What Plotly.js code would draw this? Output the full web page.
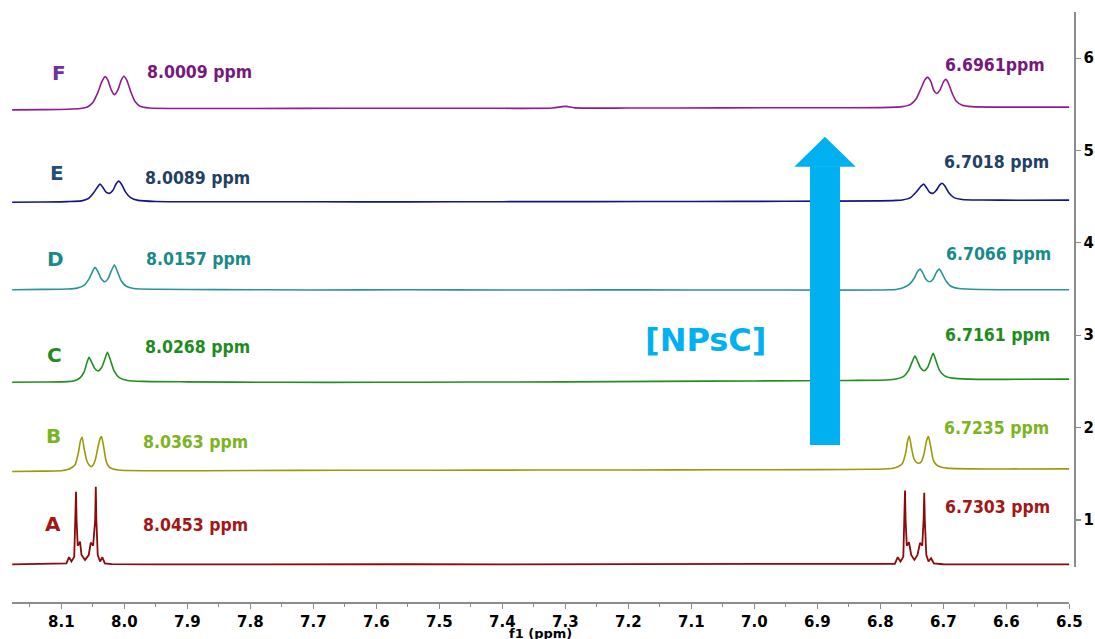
<!DOCTYPE html>
<html>
<head>
<meta charset="utf-8">
<script src="https://cdn.plot.ly/plotly-3.0.1.min.js"></script>
<style>
  html, body { margin: 0; padding: 0; background: #ffffff; }
  #chart { width: 1095px; height: 639px; }
</style>
</head>
<body>
<div id="chart"></div>
<script>
// Stacked 1H NMR spectra, aromatic region (f1, ppm), samples A–F.

// Sample names (bottom to top)
const sampleNames = ['A', 'B', 'C', 'D', 'E', 'F'];

// Chemical shifts labelled for the two doublets of each sample
const leftShiftLabels  = ['8.0453 ppm', '8.0363 ppm', '8.0268 ppm', '8.0157 ppm', '8.0089 ppm', '8.0009 ppm'];
const rightShiftLabels = ['6.7303 ppm', '6.7235 ppm', '6.7161 ppm', '6.7066 ppm', '6.7018 ppm', '6.6961ppm'];

// Spectrum A (ppm, stacked intensity)
const xA = [8.178, 8.14, 8.10, 8.092, 8.0878, 8.084, 8.0795, 8.0775, 8.0767, 8.0758, 8.074, 8.0703, 8.068, 8.0624, 8.0565, 8.0533, 8.0495, 8.0463, 8.0453, 8.0444, 8.0422, 8.0385, 8.0349, 8.031, 8.02, 7.95, 7.85, 7.7, 7.55, 7.4, 7.25, 7.1, 6.95, 6.85, 6.79, 6.777, 6.7724, 6.768, 6.7635, 6.7616, 6.7608, 6.7599, 6.758, 6.7545, 6.751, 6.746, 6.741, 6.737, 6.7335, 6.7313, 6.7303, 6.7294, 6.727, 6.7235, 6.7195, 6.715, 6.70, 6.6, 6.5];
const yA = [0.518, 0.522, 0.525, 0.53, 0.596, 0.55, 0.60, 1.0, 1.306, 1.0, 0.72, 0.765, 0.62, 0.567, 0.62, 0.754, 0.72, 1.0, 1.36, 1.0, 0.62, 0.55, 0.596, 0.53, 0.522, 0.519, 0.521, 0.518, 0.52, 0.519, 0.521, 0.52, 0.518, 0.52, 0.522, 0.525, 0.596, 0.55, 0.60, 1.0, 1.317, 1.0, 0.72, 0.758, 0.62, 0.567, 0.62, 0.751, 0.72, 1.0, 1.295, 1.0, 0.62, 0.55, 0.585, 0.53, 0.52, 0.519, 0.518];

// Spectrum B
const xB = [8.178, 8.13, 8.10, 8.09, 8.084, 8.0783, 8.073, 8.0695, 8.067, 8.0635, 8.0595, 8.0555, 8.0516, 8.0465, 8.0415, 8.0385, 8.0363, 8.033, 8.029, 8.025, 8.018, 8.005, 7.95, 7.8, 7.65, 7.5, 7.35, 7.2, 7.05, 6.9, 6.81, 6.795, 6.78, 6.772, 6.765, 6.76, 6.7565, 6.754, 6.7505, 6.7465, 6.742, 6.7388, 6.735, 6.7305, 6.7265, 6.7235, 6.72, 6.716, 6.711, 6.703, 6.69, 6.66, 6.6, 6.5];
const yB = [1.525, 1.528, 1.533, 1.545, 1.565, 1.595, 1.725, 1.86, 1.895, 1.76, 1.64, 1.59, 1.578, 1.64, 1.80, 1.88, 1.902, 1.80, 1.64, 1.58, 1.55, 1.537, 1.532, 1.535, 1.537, 1.538, 1.54, 1.541, 1.543, 1.545, 1.548, 1.552, 1.56, 1.575, 1.61, 1.72, 1.86, 1.909, 1.78, 1.66, 1.62, 1.614, 1.63, 1.72, 1.86, 1.902, 1.79, 1.65, 1.595, 1.57, 1.558, 1.553, 1.552, 1.553];

// Spectrum C
const xC = [8.178, 8.13, 8.09, 8.078, 8.070, 8.064, 8.0595, 8.056, 8.052, 8.047, 8.0414, 8.036, 8.031, 8.0268, 8.022, 8.016, 8.008, 7.995, 7.97, 7.9, 7.75, 7.6, 7.45, 7.3, 7.15, 7.0, 6.85, 6.79, 6.775, 6.763, 6.755, 6.749, 6.745, 6.741, 6.736, 6.7305, 6.725, 6.72, 6.7161, 6.712, 6.706, 6.698, 6.685, 6.66, 6.6, 6.5];
const yC = [2.49, 2.493, 2.497, 2.51, 2.54, 2.6, 2.7, 2.761, 2.71, 2.64, 2.613, 2.65, 2.74, 2.815, 2.73, 2.61, 2.54, 2.51, 2.5, 2.495, 2.49, 2.49, 2.493, 2.495, 2.5, 2.505, 2.51, 2.515, 2.525, 2.555, 2.62, 2.72, 2.775, 2.72, 2.645, 2.616, 2.65, 2.74, 2.804, 2.73, 2.62, 2.56, 2.535, 2.525, 2.522, 2.525];

// Spectrum D
const xD = [8.178, 8.13, 8.09, 8.075, 8.064, 8.056, 8.0505, 8.0465, 8.042, 8.037, 8.0311, 8.026, 8.0205, 8.0157, 8.011, 8.005, 7.997, 7.985, 7.95, 7.85, 7.7, 7.55, 7.4, 7.25, 7.1, 6.95, 6.8, 6.775, 6.765, 6.754, 6.746, 6.741, 6.737, 6.733, 6.728, 6.7218, 6.716, 6.711, 6.7066, 6.702, 6.696, 6.688, 6.675, 6.64, 6.58, 6.5];
const yD = [3.493, 3.496, 3.5, 3.51, 3.54, 3.61, 3.69, 3.735, 3.69, 3.615, 3.579, 3.61, 3.7, 3.76, 3.69, 3.59, 3.53, 3.505, 3.497, 3.494, 3.49, 3.492, 3.49, 3.491, 3.49, 3.489, 3.49, 3.495, 3.51, 3.55, 3.62, 3.69, 3.716, 3.68, 3.61, 3.579, 3.61, 3.68, 3.716, 3.67, 3.59, 3.53, 3.505, 3.495, 3.492, 3.493];

// Spectrum E
const xE = [8.178, 8.13, 8.09, 8.068, 8.057, 8.049, 8.043, 8.0386, 8.034, 8.029, 8.0237, 8.018, 8.013, 8.0089, 8.004, 7.998, 7.99, 7.978, 7.95, 7.85, 7.7, 7.55, 7.4, 7.25, 7.1, 6.95, 6.8, 6.775, 6.765, 6.752, 6.743, 6.736, 6.7313, 6.727, 6.722, 6.7166, 6.711, 6.706, 6.7018, 6.697, 6.691, 6.683, 6.67, 6.64, 6.58, 6.5];
const yE = [4.44, 4.443, 4.447, 4.455, 4.48, 4.54, 4.6, 4.636, 4.6, 4.55, 4.536, 4.57, 4.64, 4.669, 4.63, 4.55, 4.49, 4.46, 4.448, 4.446, 4.445, 4.444, 4.446, 4.447, 4.448, 4.45, 4.455, 4.46, 4.465, 4.49, 4.55, 4.61, 4.636, 4.6, 4.55, 4.536, 4.57, 4.625, 4.645, 4.61, 4.54, 4.49, 4.47, 4.464, 4.462, 4.463];

// Spectrum F
const xF = [8.178, 8.13, 8.09, 8.07, 8.058, 8.05, 8.042, 8.036, 8.0306, 8.026, 8.021, 8.0158, 8.01, 8.005, 8.0009, 7.996, 7.99, 7.983, 7.975, 7.96, 7.92, 7.8, 7.65, 7.5, 7.4, 7.32, 7.305, 7.298, 7.285, 7.2, 7.05, 6.9, 6.8, 6.775, 6.765, 6.752, 6.743, 6.735, 6.729, 6.7248, 6.72, 6.715, 6.7104, 6.705, 6.7, 6.6961, 6.692, 6.686, 6.679, 6.67, 6.655, 6.6, 6.5];
const yF = [5.44, 5.443, 5.447, 5.455, 5.475, 5.52, 5.63, 5.74, 5.80, 5.76, 5.66, 5.605, 5.66, 5.76, 5.805, 5.76, 5.64, 5.53, 5.48, 5.46, 5.455, 5.455, 5.457, 5.458, 5.457, 5.46, 5.475, 5.478, 5.462, 5.46, 5.462, 5.463, 5.465, 5.47, 5.475, 5.5, 5.56, 5.68, 5.77, 5.792, 5.75, 5.65, 5.618, 5.66, 5.74, 5.77, 5.73, 5.62, 5.53, 5.49, 5.475, 5.47, 5.47];

// Axis tick labels
const yTickVals = [1, 2, 3, 4, 5, 6];
const yTickText = ['1', '2', '3', '4', '5', '6'];
const xAxisTitle = 'f1 (ppm)';

// ---- styling ----
const traceColors  = ['#8b0a0a', '#9a9a08', '#1f8f1f', '#2a9494', '#15158a', '#901a90'];
const letterColors = ['#a31616', '#7cb321', '#1d8c1d', '#188a8a', '#1f4e79', '#7030a0'];
const ppmColors    = ['#a31616', '#7cb321', '#1d8c1d', '#188a8a', '#243f66', '#78187c'];

const xs = [xA, xB, xC, xD, xE, xF];
const ys = [yA, yB, yC, yD, yE, yF];

const traces = sampleNames.map((name, i) => ({
  type: 'scatter',
  mode: 'lines',
  name: name,
  x: xs[i],
  y: ys[i],
  line: {
    color: traceColors[i],
    width: i === 0 ? 1.8 : 1.6,
    shape: i === 0 ? 'linear' : 'spline',
    smoothing: 0.6
  },
  hoverinfo: 'skip'
}));

// Label anchor positions (ppm, stacked intensity)
const letterPos = [[8.1135, 0.96], [8.1132, 1.906], [8.1116, 2.786], [8.110, 3.825], [8.1068, 4.755], [8.1037, 5.838]];
const leftPos   = [[7.8878, 0.946], [7.8878, 1.847], [7.8846, 2.872], [7.883, 3.825], [7.8846, 4.701], [7.8814, 5.848]];
const rightPos  = [[6.6144, 1.144], [6.6163, 1.996], [6.6148, 3.002], [6.612, 3.879], [6.6156, 4.878], [6.6184, 5.924]];

const BOLD = 'DejaVu Sans, Verdana, sans-serif';
const COND = 'DejaVu Sans Condensed, DejaVu Sans, sans-serif';

const annotations = [];
sampleNames.forEach((name, i) => {
  annotations.push({
    x: letterPos[i][0], y: letterPos[i][1], xref: 'x', yref: 'y',
    text: name, showarrow: false, xanchor: 'center', yanchor: 'middle',
    font: { family: BOLD, size: 20, color: letterColors[i], weight: 'bold' }
  });
  annotations.push({
    x: leftPos[i][0], y: leftPos[i][1], xref: 'x', yref: 'y',
    text: leftShiftLabels[i], showarrow: false, xanchor: 'center', yanchor: 'middle',
    font: { family: COND, size: 17.5, color: ppmColors[i], weight: 'bold' }
  });
  annotations.push({
    x: rightPos[i][0], y: rightPos[i][1], xref: 'x', yref: 'y',
    text: rightShiftLabels[i], showarrow: false, xanchor: 'center', yanchor: 'middle',
    font: { family: COND, size: 17.5, color: ppmColors[i], weight: 'bold' }
  });
});
annotations.push({
  x: 7.077, y: 2.948, xref: 'x', yref: 'y',
  text: '[NPsC]', showarrow: false, xanchor: 'center', yanchor: 'middle',
  font: { family: BOLD, size: 32, color: '#00b0f0', weight: 'bold' }
});
// Axis title sits just below the tick labels, at the bottom edge
annotations.push({
  x: 7.34, y: 0, xref: 'x', yref: 'paper',
  text: xAxisTitle, showarrow: false, xanchor: 'center', yanchor: 'top',
  yshift: -23, borderpad: 0,
  font: { family: BOLD, size: 13, color: '#000000', weight: 'bold' }
});

// Concentration arrow: shaft + head
const arrowShaft = { left: 6.9116, right: 6.864, bottom: 1.812, top: 4.83 };
const arrowHead  = { left: 6.9365, right: 6.839, base: 4.824, tip: 5.148, mid: 6.888 };
const shapes = [
  {
    type: 'rect', xref: 'x', yref: 'y', layer: 'above',
    x0: arrowShaft.left, x1: arrowShaft.right, y0: arrowShaft.bottom, y1: arrowShaft.top,
    fillcolor: '#00b0f0', line: { width: 0 }
  },
  {
    type: 'path', xref: 'x', yref: 'y', layer: 'above',
    path: 'M ' + arrowHead.left + ',' + arrowHead.base +
          ' L ' + arrowHead.right + ',' + arrowHead.base +
          ' L ' + arrowHead.mid + ',' + arrowHead.tip + ' Z',
    fillcolor: '#00b0f0', line: { width: 0 }
  }
];

const layout = {
  width: 1095,
  height: 639,
  margin: { l: 12, r: 21, t: 12, b: 37 },
  paper_bgcolor: '#ffffff',
  plot_bgcolor: '#ffffff',
  showlegend: false,
  xaxis: {
    range: [8.1783, 6.5],
    domain: [0, 0.9956],
    anchor: 'free',
    position: 0,
    showgrid: false,
    zeroline: false,
    showline: true,
    linecolor: '#8c8c8c',
    linewidth: 1.5,
    ticks: 'outside',
    ticklen: 5,
    tickwidth: 1.2,
    tickcolor: '#8c8c8c',
    tick0: 8.0,
    dtick: 0.1,
    tickformat: '.1f',
    minor: { dtick: 0.05, tick0: 8.0, ticks: 'outside', ticklen: 3, tickcolor: '#8c8c8c', tickwidth: 1.2, showgrid: false },
    tickfont: { family: BOLD, size: 15, color: '#000000', weight: 'bold' },
    automargin: false
  },
  yaxis: {
    range: [0.49, 6.5],
    domain: [0.0593, 1],
    anchor: 'free',
    position: 1,
    side: 'right',
    showgrid: false,
    zeroline: false,
    showline: true,
    linecolor: '#8c8c8c',
    linewidth: 1.5,
    ticks: 'outside',
    ticklen: 5,
    tickwidth: 1.2,
    tickcolor: '#8c8c8c',
    tickvals: yTickVals,
    ticktext: yTickText,
    tickfont: { family: BOLD, size: 15, color: '#000000', weight: 'bold' },
    automargin: false
  },
  annotations: annotations,
  shapes: shapes
};

Plotly.newPlot('chart', traces, layout, { staticPlot: true, displayModeBar: false });
</script>
</body>
</html>
